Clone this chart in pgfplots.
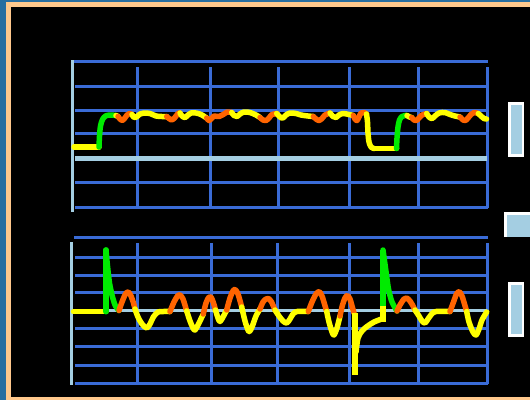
\documentclass[border=0pt]{standalone}
\usepackage{pgfplots}
\pgfplotsset{compat=1.18}
\definecolor{steel}{RGB}{40,110,160}
\definecolor{peach}{RGB}{255,200,140}
\definecolor{gridblue}{RGB}{58,107,214}
\definecolor{lblue}{RGB}{164,206,226}
\definecolor{sigyel}{RGB}{255,255,0}
\definecolor{sigorg}{RGB}{255,100,0}
\definecolor{siggrn}{RGB}{0,235,0}
\begin{document}
\begin{tikzpicture}
\begin{axis}[
  scale only axis, width=530bp, height=400bp,
  xmin=0, xmax=530, ymin=0, ymax=400, y dir=reverse,
  hide axis, clip=false,
  every axis plot/.append style={line width=5.5bp, line cap=round, line join=round},
]
% background and frame
\fill[black] (axis cs:0,0) rectangle (axis cs:530,400);
\fill[steel] (axis cs:0,0) rectangle (axis cs:6,400);
\fill[steel] (axis cs:0,0) rectangle (axis cs:530,2);
\fill[peach] (axis cs:6,2) rectangle (axis cs:530,7);
\fill[peach] (axis cs:6,2) rectangle (axis cs:11,400);
\fill[peach] (axis cs:6,396.5) rectangle (axis cs:530,400);
% right side indicators
\fill[white] (axis cs:508,102) rectangle (axis cs:524,157);
\fill[lblue] (axis cs:511,105) rectangle (axis cs:521.5,154);
\fill[white] (axis cs:504,212) rectangle (axis cs:530,237);
\fill[lblue] (axis cs:507,215) rectangle (axis cs:530,237);
\fill[white] (axis cs:508,282) rectangle (axis cs:524,337);
\fill[lblue] (axis cs:511,285) rectangle (axis cs:521.5,334);
% ---- top panel grid
\draw[gridblue, line width=3bp] (axis cs:73,61.5) -- (axis cs:487.5,61.5);
\draw[gridblue, line width=3bp] (axis cs:75,86) -- (axis cs:488,86);
\draw[gridblue, line width=3bp] (axis cs:75,110) -- (axis cs:488,110);
\draw[gridblue, line width=3bp] (axis cs:75,133) -- (axis cs:488,133);
\draw[gridblue, line width=3bp] (axis cs:75,182) -- (axis cs:488,182);
\draw[gridblue, line width=3bp] (axis cs:75,207) -- (axis cs:488,207);
\draw[gridblue, line width=3bp] (axis cs:137,67) -- (axis cs:137,208);
\draw[gridblue, line width=3bp] (axis cs:210,67) -- (axis cs:210,208);
\draw[gridblue, line width=3bp] (axis cs:278,67) -- (axis cs:278,208);
\draw[gridblue, line width=3bp] (axis cs:349,67) -- (axis cs:349,208);
\draw[gridblue, line width=3bp] (axis cs:418,67) -- (axis cs:418,208);
\draw[gridblue, line width=3bp] (axis cs:487,67) -- (axis cs:487,208);
\draw[lblue, line width=5bp] (axis cs:75,158) -- (axis cs:487,158);
\draw[lblue, line width=3bp] (axis cs:72.5,60) -- (axis cs:72.5,212);
% ---- bottom panel grid
\draw[gridblue, line width=3bp] (axis cs:74,237) -- (axis cs:488,237);
\draw[gridblue, line width=3bp] (axis cs:75,257) -- (axis cs:488,257);
\draw[gridblue, line width=3bp] (axis cs:75,275) -- (axis cs:488,275);
\draw[gridblue, line width=3bp] (axis cs:75,292) -- (axis cs:488,292);
\draw[gridblue, line width=3bp] (axis cs:75,328) -- (axis cs:488,328);
\draw[gridblue, line width=3bp] (axis cs:75,346) -- (axis cs:488,346);
\draw[gridblue, line width=3bp] (axis cs:75,365) -- (axis cs:488,365);
\draw[gridblue, line width=3bp] (axis cs:75,383) -- (axis cs:488,383);
\draw[gridblue, line width=3bp] (axis cs:137,243) -- (axis cs:137,383);
\draw[gridblue, line width=3bp] (axis cs:211,243) -- (axis cs:211,383);
\draw[gridblue, line width=3bp] (axis cs:277,243) -- (axis cs:277,383);
\draw[gridblue, line width=3bp] (axis cs:349,243) -- (axis cs:349,383);
\draw[gridblue, line width=3bp] (axis cs:418,243) -- (axis cs:418,383);
\draw[gridblue, line width=3bp] (axis cs:487,243) -- (axis cs:487,384);
\draw[lblue, line width=3bp] (axis cs:75,310) -- (axis cs:487,310);
\draw[lblue, line width=3bp] (axis cs:71.5,242) -- (axis cs:71.5,385);

% ================= top panel signal
\addplot[sigyel] coordinates {(74,147) (99,147)};
\addplot[siggrn, smooth] coordinates {(99,147) (99.5,136) (100.5,126) (102.5,119.5) (105.5,116) (110,115) (116,115.5)};
\addplot[sigyel, smooth] coordinates {(116,115.5) (118,116.5)};
\addplot[sigorg, smooth] coordinates {(118,116.5) (120,119) (122,120.5) (124.5,118.5) (127,115) (129.5,113.5) (132,114.5)};
\addplot[sigyel, smooth] coordinates {(132,114.5) (134,117.5) (136.5,117) (140,114) (144,113) (150,113.5) (156,116) (162,116.5) (166.7,116.5)};
\addplot[sigorg, smooth] coordinates {(166.7,116.5) (169,118.5) (171.5,120) (174.5,118) (178,113.5) (180,113)};
\addplot[sigyel, smooth] coordinates {(180,113) (182,116) (185,117.5) (188,115) (191,113) (196,113) (201,114.5) (206.7,118)};
\addplot[sigorg, smooth] coordinates {(206.7,118) (209,120.5) (212,118) (214,116) (219,116.5) (224,114) (227,112) (231.7,112.5)};
\addplot[sigyel, smooth] coordinates {(231.7,112.5) (234,115.5) (237,116.5) (240,114) (244,112) (250,112.5) (256,115) (260,117.5)};
\addplot[sigorg, smooth] coordinates {(260,117.5) (263,120) (266,120.5) (269,118) (272,114.5) (276.7,113.5)};
\addplot[sigyel, smooth] coordinates {(276.7,113.5) (280,117) (283,118) (286,115) (290,113) (296,113.5) (301,115) (308,116) (313.3,116.5)};
\addplot[sigorg, smooth] coordinates {(313.3,116.5) (316,119) (319,120.5) (322,118.5) (325,115) (330,113)};
\addplot[sigyel, smooth] coordinates {(330,113) (333,116.5) (336,117.5) (339,115) (343,113.5) (349,114.5) (353.3,115.5)};
\addplot[sigorg, smooth] coordinates {(353.3,115.5) (355,119) (357,120.5) (359,117) (361,113) (364,112.5) (366.5,114)};
\addplot[sigyel, smooth] coordinates {(366.5,114) (367.5,122) (368,133) (369,142) (371,147) (374,148.5)};
\addplot[sigyel] coordinates {(374,148.5) (396.5,148.5)};
\addplot[siggrn, smooth] coordinates {(396.5,148.5) (397,138) (398,127) (399.5,120) (402,116.5) (405,115.5) (407,115.5)};
\addplot[sigyel, smooth] coordinates {(407,115.5) (409.5,117) (411.7,117.5)};
\addplot[sigorg, smooth] coordinates {(411.7,117.5) (414,120) (416.5,120.5) (419,118) (422,115) (426.7,113.5)};
\addplot[sigyel, smooth] coordinates {(426.7,113.5) (429,117) (432,118.5) (435,116) (439,113) (445,112.5) (450,114.5) (455,116) (460,117)};
\addplot[sigorg, smooth] coordinates {(460,117) (463,120) (465.5,120.5) (468,118) (471,114.5) (474,112.5) (478.3,113.5)};
\addplot[sigyel, smooth] coordinates {(478.3,113.5) (481,116) (484,118.5) (486.5,119)};

% ================= bottom panel signal
\addplot[sigyel] coordinates {(73.5,311.7) (106,311.7)};
\addplot[siggrn] coordinates {(106,311.7) (106,250)};
\addplot[siggrn, smooth] coordinates {(106,250) (107.5,266) (109.5,283) (112.5,297) (115.5,306) (119,310.5)};
\addplot[sigorg, smooth] coordinates {(119,310.5) (122,302) (125.5,294) (128.3,292) (131,296) (133.5,303) (135,309)};
\addplot[sigyel, smooth] coordinates {(135,309) (138,317) (142,324) (146.7,328) (150,324) (153.3,317) (158,312) (163,311.5) (170,311.5)};
\addplot[sigorg, smooth] coordinates {(170,311.5) (174,302) (177.5,296) (180,295) (183,299) (186.7,311)};
\addplot[sigyel, smooth] coordinates {(186.7,311) (190,321) (193,328) (195,330) (198,325) (203.3,314)};
\addplot[sigorg, smooth] coordinates {(203.3,314) (206,303) (209,297) (211,297) (213.5,303) (215.5,310)};
\addplot[sigyel, smooth] coordinates {(215.5,310) (218,318) (220,321.5) (223,317) (226.7,310)};
\addplot[sigorg, smooth] coordinates {(226.7,310) (230,298) (233,291) (235,289.5) (238,294) (241.7,307)};
\addplot[sigyel, smooth] coordinates {(241.7,307) (245,321) (248,330) (249.5,331.5) (252,327) (256,316) (260,309)};
\addplot[sigorg, smooth] coordinates {(260,309) (263,302) (266,299) (268.5,298.5) (271.5,302) (275,310)};
\addplot[sigyel, smooth] coordinates {(275,310) (279,316) (283,321) (286.7,323) (290,319) (293,314) (297,311.5) (308.3,311.5)};
\addplot[sigorg, smooth] coordinates {(308.3,311.5) (312,302) (316,294) (319.3,291.7) (322,296) (324.5,304) (326.7,311.5)};
\addplot[sigyel, smooth] coordinates {(326.7,311.5) (329,322) (332,332) (334,335) (337,328) (340,316)};
\addplot[sigorg, smooth] coordinates {(340,316) (342.5,305) (345,298) (347.3,295.5) (350,299) (352,306) (354,313)};
\addplot[sigyel, line cap=butt] coordinates {(355,313) (355,375)};
\addplot[sigyel, smooth] coordinates {(356,352) (358,338) (362,331) (367,326.5) (374,322) (383,318.5)};
\addplot[sigyel, line width=6bp, line cap=butt] coordinates {(383,322) (383,306)};
\addplot[siggrn, line cap=butt] coordinates {(383,306) (383,250)};
\addplot[siggrn, smooth] coordinates {(383,250) (385.5,268) (388.5,289) (392,302) (397,311)};
\addplot[sigorg, smooth] coordinates {(397,311) (400,305) (404,299) (406.7,298) (410,301) (413,306) (415,310)};
\addplot[sigyel, smooth] coordinates {(415,310) (419,316) (422,321) (425,323) (428,319) (431.7,314) (436,311.5) (450,311.5)};
\addplot[sigorg, smooth] coordinates {(450,311.5) (453.5,302) (456.5,294) (459.3,291.7) (462,296) (464.5,304) (466.7,311.5)};
\addplot[sigyel, smooth] coordinates {(466.7,311.5) (469,322) (473,332) (476,335) (479,329) (482,320) (486.7,312)};
\end{axis}
\end{tikzpicture}
\end{document}
